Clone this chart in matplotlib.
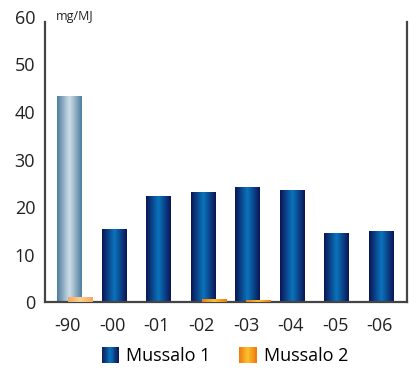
import numpy as np
import matplotlib
matplotlib.use('Agg')
import matplotlib.pyplot as plt
from matplotlib.colors import LinearSegmentedColormap
from matplotlib.patches import Rectangle
from matplotlib.legend_handler import HandlerBase

plt.rcParams['font.family'] = ['Open Sans', 'DejaVu Sans']

# data
years = ['-90', '-00', '-01', '-02', '-03', '-04', '-05', '-06']
mussalo1 = [43.2, 15.2, 22.1, 23.0, 24.0, 23.4, 14.5, 14.9]
mussalo2 = [1.0, 0, 0, 0.5, 0.3, 0, 0, 0]

# colour ramps: edge -> centre -> edge
blue = LinearSegmentedColormap.from_list('b', ['#0b1657', '#0a74bd', '#0b1657'])
pale = LinearSegmentedColormap.from_list('p', ['#4f7d9e', '#cfdfe9', '#4f7d9e'])
orange = LinearSegmentedColormap.from_list('o', ['#ee7a10', '#fbc12e', '#ee7a10'])
pale_or = LinearSegmentedColormap.from_list('po', ['#f4a860', '#fcd08e', '#f4a860'])

grad = np.linspace(0, 1, 64).reshape(1, -1)


def shade(ax, bars, cmaps):
    for b, cm in zip(bars, cmaps):
        if b.get_height() <= 0:
            continue
        x0, y0 = b.get_x(), b.get_y()
        w, h = b.get_width(), b.get_height()
        ax.imshow(grad, cmap=cm, aspect='auto', extent=(x0, x0 + w, y0, y0 + h),
                  zorder=b.get_zorder() + 0.1, interpolation='bilinear')
        b.set_facecolor('none')


class GradHandler(HandlerBase):
    def __init__(self, cmap):
        super().__init__()
        self.cmap = cmap

    def create_artists(self, legend, orig_handle, xdescent, ydescent, width, height, fontsize, trans):
        n = 20
        out = []
        for k in range(n):
            r = Rectangle((-xdescent + width * k / n, -ydescent), width / n + 0.3, height,
                          facecolor=self.cmap((k + 0.5) / n), edgecolor='none', transform=trans)
            out.append(r)
        return out


fig = plt.figure(figsize=(4.2, 3.68), dpi=100)
ax = fig.add_axes([0.107, 0.179, 0.862, 0.775])

x = np.arange(len(years))
w = 0.54
b1 = ax.bar(x, mussalo1, w, zorder=2, edgecolor='none')
b2 = ax.bar(x + 0.25, mussalo2, w, zorder=3, edgecolor='none')
shade(ax, b1, [pale] + [blue] * (len(years) - 1))
shade(ax, b2, [pale_or] + [orange] * (len(years) - 1))

ax.set_xlim(-0.54, 7.58)
ax.set_ylim(0, 60)
ax.set_yticks(range(0, 61, 10))
ax.set_xticks(x - 0.03)
ax.set_xticklabels(years)
ax.tick_params(length=0, labelsize=13, colors='#222222')
ax.tick_params(axis='x', pad=11)
ax.tick_params(axis='y', pad=7)

ax.spines['top'].set_visible(False)
for s in ['left', 'right', 'bottom']:
    ax.spines[s].set_color('#444444')
    ax.spines[s].set_linewidth(1.6)
ax.spines['left'].set_bounds(0, 59)
ax.spines['right'].set_bounds(0, 59)

ax.text(0.03, 1.0, 'mg/MJ', transform=ax.transAxes, fontsize=9, color='#222222',
        va='center', ha='left')

h1 = Rectangle((0, 0), 1, 1)
h2 = Rectangle((0, 0), 1, 1)
fig.legend([h1, h2], ['Mussalo 1', 'Mussalo 2'], loc='center',
           bbox_to_anchor=(0.535, 0.033), ncol=2, frameon=False, fontsize=13,
           handlelength=0.95, handleheight=1.0, handletextpad=0.4, columnspacing=1.6,
           borderpad=0, handler_map={h1: GradHandler(blue), h2: GradHandler(orange)})

fig.savefig('out.png', dpi=100)
